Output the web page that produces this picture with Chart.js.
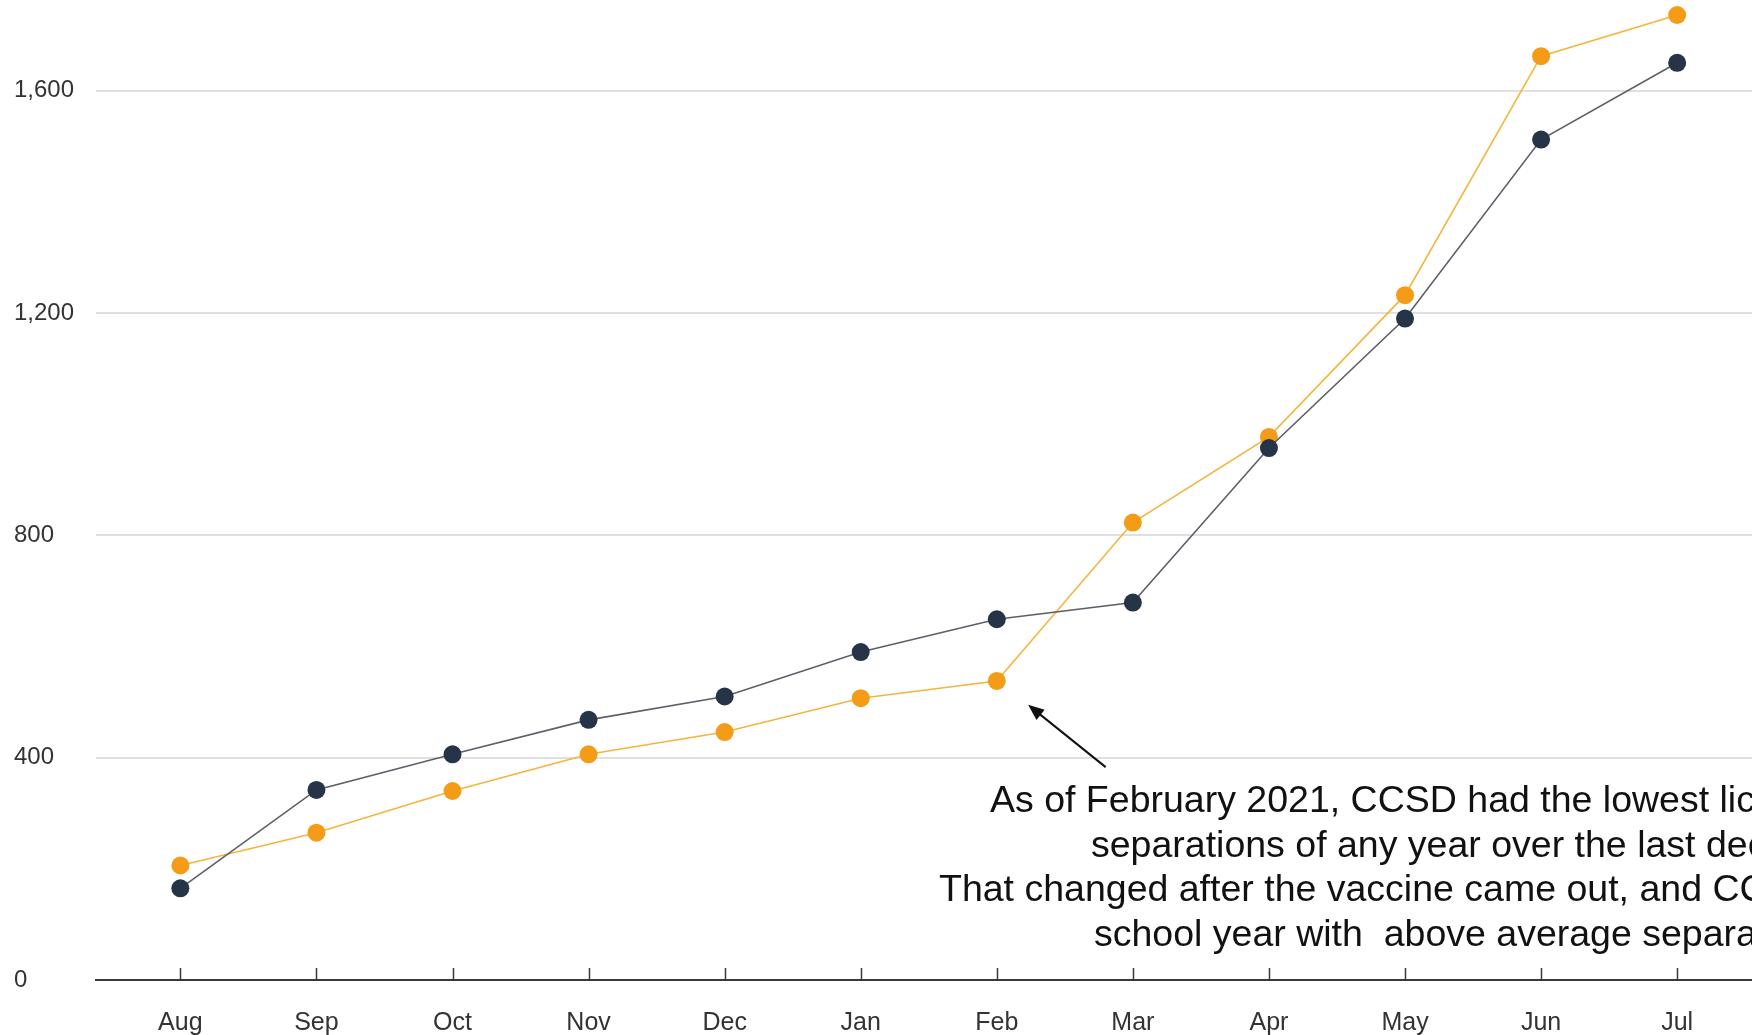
<!DOCTYPE html>
<html>
<head>
<meta charset="utf-8">
<script src="https://cdn.jsdelivr.net/npm/chart.js@4.4.1/dist/chart.umd.min.js"></script>
<style>
  html, body { margin: 0; padding: 0; background: #fff; }
</style>
</head>
<body>
<canvas id="chart" width="1752" height="1035"></canvas>
<script>
  const months = ['Aug', 'Sep', 'Oct', 'Nov', 'Dec', 'Jan', 'Feb', 'Mar', 'Apr', 'May', 'Jun', 'Jul'];
  const yTickStep = 400;
  const averageValues = [165, 342, 406, 468, 510, 590, 649, 679, 957, 1190, 1512, 1650];
  const schoolYearValues = [206, 265, 340, 406, 446, 507, 538, 823, 977, 1232, 1662, 1736];
  const noteLines = [
    'As of February 2021, CCSD had the lowest licensed',
    'separations of any year over the last decade.',
    'That changed after the vaccine came out, and CCSD ended the',
    'school year with  above average separations.'
  ];

  const FONT = "'Liberation Sans', Arial, sans-serif";

  // where the note sits, in pixels (left edge, baseline)
  const noteLayout = [
    { x: 990, y: 812 },
    { x: 1091, y: 857 },
    { x: 939, y: 901 },
    { x: 1094, y: 946 }
  ];

  const toPoints = values => values.map((v, i) => ({ x: i, y: v }));

  // no extra padding around the plot, the reference runs to the edges
  const noPad = s => {
    s.paddingTop = 0;
    s.paddingBottom = 0;
    s.paddingLeft = 0;
    s.paddingRight = 0;
  };

  // small upward tick marks on the x axis + the arrow and note text
  const extras = {
    id: 'extras',
    afterDraw(chart) {
      const ctx = chart.ctx;
      const x = chart.scales.x;
      const y = chart.scales.y;
      const base = y.getPixelForValue(0);

      ctx.save();
      ctx.strokeStyle = '#3a3a3a';
      ctx.lineWidth = 1.5;
      months.forEach((m, i) => {
        const px = Math.round(x.getPixelForValue(i)) + 0.5;
        ctx.beginPath();
        ctx.moveTo(px, base - 12);
        ctx.lineTo(px, base);
        ctx.stroke();
      });

      // arrow pointing at the Feb dip
      const tipX = x.getPixelForValue(6.23), tipY = y.getPixelForValue(495);
      const tailX = x.getPixelForValue(6.80), tailY = y.getPixelForValue(383);
      const ang = Math.atan2(tipY - tailY, tipX - tailX);
      const headLen = 16, headW = 6.5;
      ctx.strokeStyle = '#111';
      ctx.fillStyle = '#111';
      ctx.lineWidth = 2;
      ctx.beginPath();
      ctx.moveTo(tailX, tailY);
      ctx.lineTo(tipX - Math.cos(ang) * headLen * 0.8, tipY - Math.sin(ang) * headLen * 0.8);
      ctx.stroke();
      ctx.beginPath();
      ctx.moveTo(tipX, tipY);
      ctx.lineTo(tipX - Math.cos(ang) * headLen + Math.sin(ang) * headW,
                 tipY - Math.sin(ang) * headLen - Math.cos(ang) * headW);
      ctx.lineTo(tipX - Math.cos(ang) * headLen - Math.sin(ang) * headW,
                 tipY - Math.sin(ang) * headLen + Math.cos(ang) * headW);
      ctx.closePath();
      ctx.fill();

      ctx.font = '37.5px ' + FONT;
      ctx.textAlign = 'left';
      ctx.textBaseline = 'alphabetic';
      noteLines.forEach((line, i) => {
        ctx.fillText(line, noteLayout[i].x, noteLayout[i].y);
      });
      ctx.restore();
    }
  };

  new Chart(document.getElementById('chart'), {
    type: 'line',
    data: {
      datasets: [
        {
          label: 'Average',
          data: toPoints(averageValues),
          borderColor: '#5b6068',
          borderWidth: 1.6,
          pointBackgroundColor: '#253447',
          pointBorderColor: '#253447',
          pointRadius: 9,
          pointBorderWidth: 0,
          tension: 0
        },
        {
          label: '2020-21',
          data: toPoints(schoolYearValues),
          borderColor: '#f3b53c',
          borderWidth: 1.6,
          pointBackgroundColor: '#f49b17',
          pointBorderColor: '#f49b17',
          pointRadius: 9,
          pointBorderWidth: 0,
          tension: 0
        }
      ]
    },
    options: {
      responsive: false,
      animation: false,
      devicePixelRatio: 1,
      clip: false,
      layout: { autoPadding: false, padding: { left: 14, top: 0, right: 0, bottom: 0 } },
      plugins: {
        legend: { display: false },
        tooltip: { enabled: false }
      },
      scales: {
        x: {
          type: 'linear',
          min: -0.62,
          max: 11.55,
          afterFit: s => { s.height = 55; noPad(s); },
          grid: { display: false, drawTicks: false },
          border: { display: true, color: '#3a3a3a', width: 2 },
          ticks: {
            stepSize: 1,
            autoSkip: false,
            maxRotation: 0,
            includeBounds: false,
            padding: 28,
            color: '#333',
            font: { family: FONT, size: 25 },
            callback: v => (Number.isInteger(v) && months[v]) ? months[v] : ''
          }
        },
        y: {
          min: 0,
          max: 1763,
          afterFit: s => { s.width = 82; noPad(s); },
          border: { display: false },
          grid: {
            color: ctx => ctx.tick && ctx.tick.value === 0 ? 'rgba(0,0,0,0)' : '#e0e0e0',
            lineWidth: 2,
            drawTicks: false
          },
          ticks: {
            stepSize: yTickStep,
            includeBounds: false,
            crossAlign: 'far',
            color: '#333',
            font: { family: FONT, size: 24 },
            callback: v => v.toLocaleString('en-US')
          }
        }
      }
    },
    plugins: [extras]
  });
</script>
</body>
</html>
